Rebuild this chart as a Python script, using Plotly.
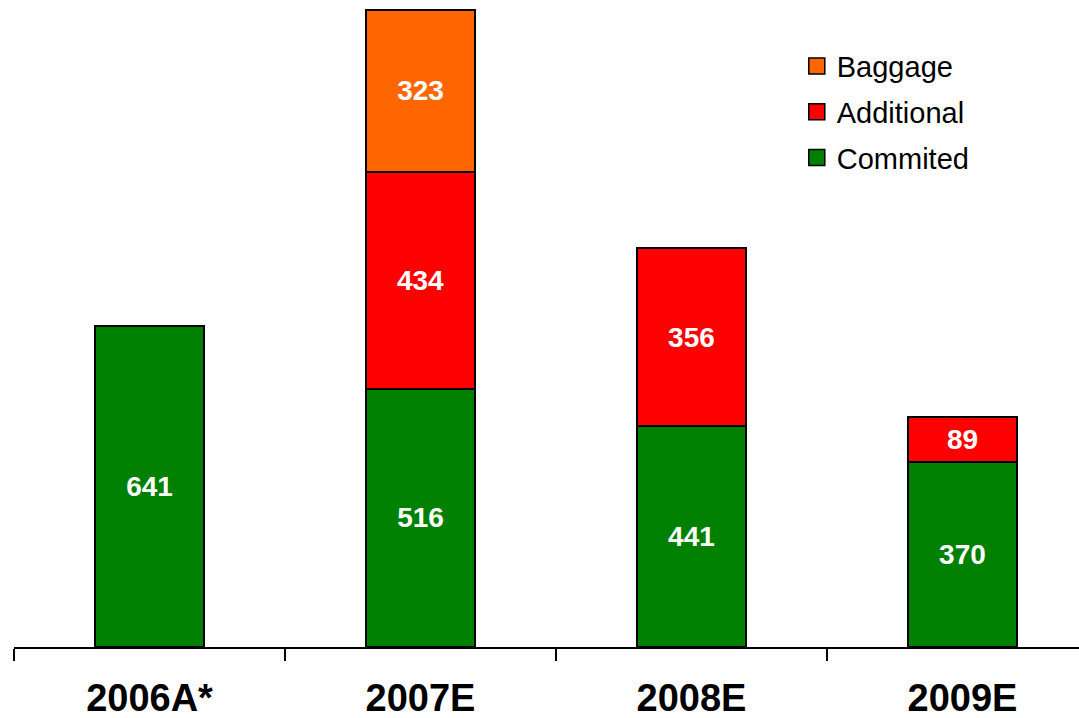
import plotly.graph_objects as go

# Category labels and stacked series values
years = ["2006A*", "2007E", "2008E", "2009E"]
commited = [641, 516, 441, 370]
additional = [None, 434, 356, 89]
baggage = [None, 323, None, None]

GREEN = "#008000"
RED = "#FF0000"
ORANGE = "#FF6600"
FONT = "Liberation Sans, Arial, sans-serif"

series = [
    ("Commited", commited, GREEN),
    ("Additional", additional, RED),
    ("Baggage", baggage, ORANGE),
]

fig = go.Figure()
for name, vals, color in series:
    fig.add_trace(go.Bar(
        x=years, y=vals, name=name,
        marker=dict(color=color, line=dict(color="black", width=1.8)),
        width=0.40,
        texttemplate="%{y}",
        textposition="inside",
        insidetextanchor="middle",
        textangle=0,
        textfont=dict(family=FONT, size=28, color="white", weight="bold"),
        showlegend=False,
        cliponaxis=False,
    ))

# Legend entries drawn as larger square swatches, top to bottom
for name, vals, color in reversed(series):
    fig.add_trace(go.Scatter(
        x=[None], y=[None], mode="markers", name=name,
        legendgroup=name,
        marker=dict(symbol="square", size=16, color=color,
                    line=dict(color="black", width=1.5)),
    ))

fig.update_layout(
    width=1079, height=718,
    margin=dict(l=14, r=0, t=0, b=71, autoexpand=False),
    barmode="stack",
    plot_bgcolor="white",
    paper_bgcolor="white",
    font=dict(family=FONT, color="black"),
    legend=dict(
        x=0.735, y=0.937, xanchor="left", yanchor="top",
        traceorder="grouped",
        tracegroupgap=5,
        font=dict(family=FONT, size=29, color="black"),
        bgcolor="rgba(0,0,0,0)",
        itemsizing="trace",
    ),
    showlegend=True,
)

fig.update_xaxes(
    type="category",
    range=[-0.5, 3.43],
    automargin=False,
    showline=True, linecolor="black", linewidth=2,
    ticks="outside", tickson="boundaries", ticklen=12, tickwidth=2,
    tickcolor="black",
    tickfont=dict(family=FONT, size=38, color="black", weight="bold"),
    ticklabelstandoff=16,
    showgrid=False, zeroline=False,
)
fig.update_yaxes(
    range=[0, 1293],
    visible=False, showgrid=False, zeroline=False,
)

fig.write_html("out.html")
